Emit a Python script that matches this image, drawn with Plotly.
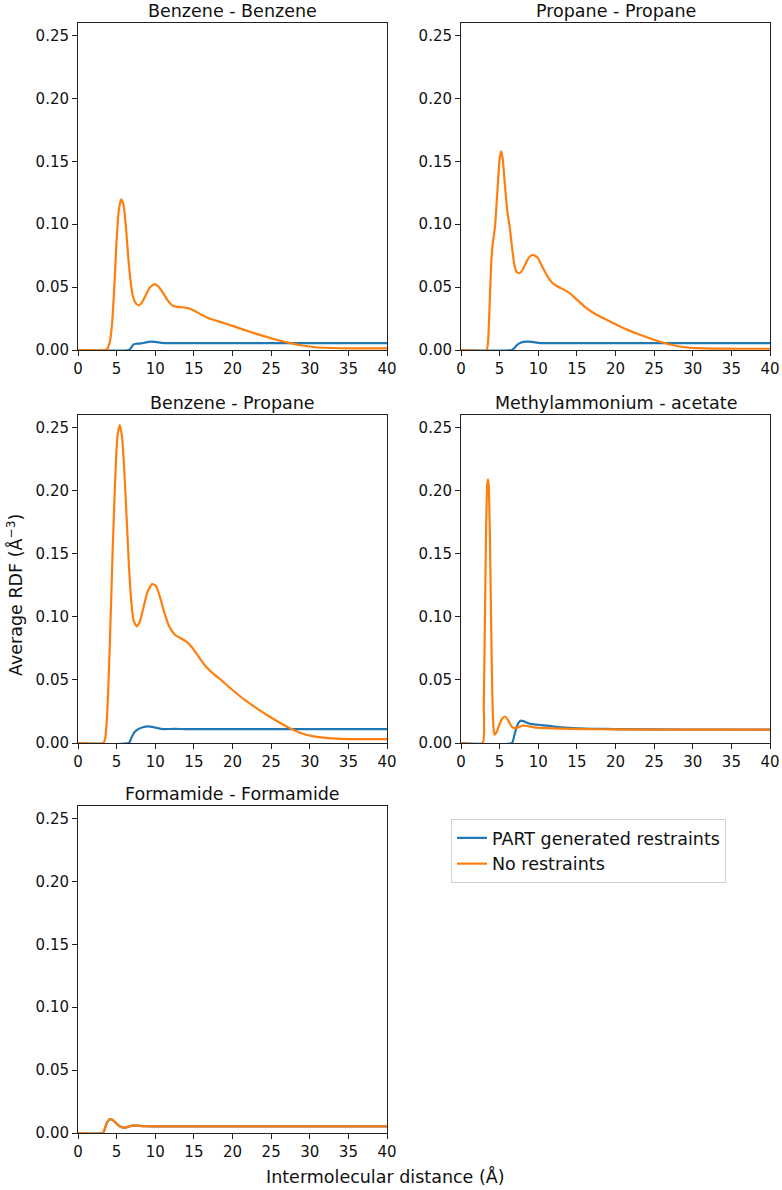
import plotly.graph_objects as go

# ---- data (distance in Angstrom, RDF in A^-3) ----
bb_no_x = [0, 3.5, 3.8, 4.1, 4.4, 4.7, 5.0, 5.3, 5.6, 5.9, 6.2, 6.5, 6.8, 7.1, 7.5, 7.9, 8.3, 8.8, 9.3, 9.9,
           10.4, 11.0, 11.6, 12.2, 12.8, 13.5, 14.2, 14.8, 15.5, 16.3, 17.2, 18.5, 20.0, 21.5, 23.0, 24.5,
           26.0, 27.5, 29.0, 30.5, 32.0, 34.0, 37.0, 40.0]
bb_no_y = [0, 0, 0.001, 0.006, 0.02, 0.05, 0.088, 0.112, 0.1197, 0.115, 0.098, 0.074, 0.055, 0.043, 0.037,
           0.0355, 0.038, 0.044, 0.0497, 0.0523, 0.0505, 0.0455, 0.0395, 0.0355, 0.0343, 0.0340, 0.0334,
           0.0320, 0.0297, 0.0270, 0.0246, 0.0222, 0.0192, 0.0160, 0.0130, 0.0102, 0.0077, 0.0055, 0.0036,
           0.0024, 0.0018, 0.0014, 0.0013, 0.0013]
bb_part_x = [0, 6.6, 6.9, 7.2, 7.6, 8.2, 8.8, 9.4, 10.0, 10.8, 11.6, 13.0, 40.0]
bb_part_y = [0, 0, 0.002, 0.0045, 0.005, 0.0053, 0.0061, 0.0066, 0.0064, 0.0057, 0.0054, 0.0055, 0.0055]

pp_no_x = [0, 3.3, 3.5, 3.7, 3.9, 4.1, 4.4, 4.7, 5.0, 5.2, 5.4, 5.7, 6.0, 6.3, 6.6, 6.9, 7.2, 7.6, 8.0, 8.5,
           9.0, 9.4, 9.9, 10.5, 11.2, 11.8, 12.5, 13.3, 14.1, 15.0, 16.0, 17.0, 18.5, 20.0, 21.5, 23.0,
           24.5, 26.0, 27.5, 29.0, 30.5, 32.5, 36.0, 40.0]
pp_no_y = [0, 0, 0.006, 0.035, 0.068, 0.084, 0.098, 0.125, 0.152, 0.158, 0.152, 0.130, 0.110, 0.098, 0.082,
           0.068, 0.062, 0.0612, 0.064, 0.0705, 0.0748, 0.0755, 0.0735, 0.0665, 0.0585, 0.0535, 0.0505,
           0.0480, 0.0450, 0.0400, 0.0345, 0.0300, 0.0250, 0.0205, 0.0162, 0.0125, 0.0092, 0.0062, 0.0038,
           0.0022, 0.0015, 0.0011, 0.0010, 0.0010]
pp_part_x = [0, 6.6, 6.9, 7.3, 7.8, 8.5, 9.2, 10.0, 11.0, 40.0]
pp_part_y = [0, 0, 0.0015, 0.0043, 0.0060, 0.0066, 0.0064, 0.0057, 0.0055, 0.0055]

bp_no_x = [0, 3.3, 3.5, 3.7, 3.9, 4.1, 4.3, 4.5, 4.7, 4.9, 5.1, 5.4, 5.7, 6.0, 6.3, 6.6, 6.9, 7.2, 7.6, 8.0,
           8.5, 9.0, 9.6, 10.1, 10.6, 11.2, 11.8, 12.5, 13.3, 14.1, 14.8, 15.6, 16.5, 17.5, 18.5, 20.0,
           21.5, 23.0, 24.5, 26.0, 27.5, 29.0, 30.5, 32.0, 34.0, 37.0, 40.0]
bp_no_y = [0, 0, 0.003, 0.015, 0.040, 0.075, 0.115, 0.155, 0.190, 0.222, 0.243, 0.252, 0.243, 0.215, 0.178,
           0.140, 0.112, 0.097, 0.0925, 0.096, 0.108, 0.120, 0.1260, 0.1245, 0.116, 0.103, 0.0925, 0.0860,
           0.0830, 0.0800, 0.0755, 0.0685, 0.0610, 0.0550, 0.0500, 0.0420, 0.0345, 0.0280, 0.0220, 0.0165,
           0.0115, 0.0075, 0.0052, 0.0040, 0.0033, 0.0030, 0.0030]
bp_part_x = [0, 6.6, 6.9, 7.3, 7.8, 8.4, 9.0, 9.6, 10.3, 11.0, 12.5, 14.0, 40.0]
bp_part_y = [0, 0, 0.004, 0.0085, 0.0110, 0.0125, 0.0132, 0.0128, 0.0118, 0.0110, 0.0112, 0.0110, 0.0110]

ma_no_x = [0, 2.8, 2.95, 3.1, 3.25, 3.4, 3.5, 3.6, 3.75, 3.9, 4.05, 4.2, 4.35, 4.6, 4.9, 5.3, 5.7, 6.1, 6.5,
           6.9, 7.4, 8.0, 8.6, 9.5, 11.0, 13.0, 16.0, 20.0, 30.0, 40.0]
ma_no_y = [0, 0, 0.03, 0.10, 0.17, 0.205, 0.209, 0.203, 0.16, 0.095, 0.04, 0.012, 0.0065, 0.0085, 0.0135,
           0.019, 0.021, 0.018, 0.0135, 0.0118, 0.0125, 0.0138, 0.0135, 0.0124, 0.0118, 0.0114, 0.0110,
           0.0108, 0.0106, 0.0106]
ma_part_x = [0, 6.6, 6.9, 7.2, 7.5, 7.8, 8.2, 8.8, 9.5, 10.5, 12.0, 14.0, 17.0, 20.0, 30.0, 40.0]
ma_part_y = [0, 0, 0.006, 0.0125, 0.0165, 0.0178, 0.0170, 0.0155, 0.0148, 0.0142, 0.0130, 0.0120, 0.0113,
             0.0110, 0.0107, 0.0106]

ff_no_x = [0, 3.2, 3.4, 3.7, 4.0, 4.3, 4.7, 5.2, 5.7, 6.1, 6.6, 7.1, 7.7, 8.5, 10.0, 40.0]
ff_no_y = [0, 0, 0.002, 0.0075, 0.0105, 0.0110, 0.0092, 0.0062, 0.0045, 0.0043, 0.0052, 0.0059, 0.0058,
           0.0054, 0.0053, 0.0053]
# PART curve lies exactly under the unrestrained one here
ff_part_x = ff_no_x
ff_part_y = ff_no_y

titles = ["Benzene - Benzene", "Propane - Propane", "Benzene - Propane",
          "Methylammonium - acetate", "Formamide - Formamide"]
series = [(bb_part_x, bb_part_y, bb_no_x, bb_no_y),
          (pp_part_x, pp_part_y, pp_no_x, pp_no_y),
          (bp_part_x, bp_part_y, bp_no_x, bp_no_y),
          (ma_part_x, ma_part_y, ma_no_x, ma_no_y),
          (ff_part_x, ff_part_y, ff_no_x, ff_no_y)]

W, H = 782, 1190
FONT = "DejaVu Sans"
BLUE, ORANGE = "#1f77b4", "#ff7f0e"

# panel boxes in pixels: (left, right, top, bottom)
col_px = [(78, 387), (461, 770)]
row_px = [(23, 350), (415, 743), (806, 1133)]

fig = go.Figure()
layout = {}
annotations = []

for i, (title, (px, py, nx, ny)) in enumerate(zip(titles, series)):
    r, c = divmod(i, 2)
    left, right = col_px[c]
    top, bottom = row_px[r]
    xa = "xaxis" if i == 0 else "xaxis%d" % (i + 1)
    ya = "yaxis" if i == 0 else "yaxis%d" % (i + 1)
    xr = "x" if i == 0 else "x%d" % (i + 1)
    yr = "y" if i == 0 else "y%d" % (i + 1)

    fig.add_trace(go.Scatter(x=px, y=py, mode="lines",
                             line=dict(color=BLUE, width=2.2, shape="spline", smoothing=0.5),
                             name="PART generated restraints", showlegend=(i == 0),
                             xaxis=xr, yaxis=yr))
    fig.add_trace(go.Scatter(x=nx, y=ny, mode="lines",
                             line=dict(color=ORANGE, width=2.2, shape="spline", smoothing=0.5),
                             name="No restraints", showlegend=(i == 0),
                             xaxis=xr, yaxis=yr))

    axis_common = dict(showline=True, linecolor="#222222", linewidth=1, mirror=True,
                       ticks="outside", ticklen=5, tickwidth=1, tickcolor="#222222",
                       showgrid=False, zeroline=False, automargin=False,
                       tickfont=dict(family=FONT, size=15, color="#111111"))
    layout[xa] = dict(axis_common, domain=[left / W, right / W], range=[0, 40], dtick=5,
                      tick0=0, anchor=yr)
    layout[ya] = dict(axis_common, domain=[1 - bottom / H, 1 - top / H], range=[0, 0.26],
                      dtick=0.05, tick0=0, tickformat=".2f", anchor=xr)

    annotations.append(dict(text=title, xref="paper", yref="paper",
                            x=(left + right) / 2 / W, y=1 - (top - 12) / H,
                            xanchor="center", yanchor="middle", showarrow=False,
                            font=dict(family=FONT, size=17.5, color="#111111")))

annotations.append(dict(text="Intermolecular distance (Å)", xref="paper", yref="paper",
                        x=385 / W, y=1 - 1176 / H, xanchor="center", yanchor="middle",
                        showarrow=False, font=dict(family=FONT, size=17.5, color="#111111")))
annotations.append(dict(text="Average RDF (Å<sup>−3</sup>)", xref="paper", yref="paper",
                        x=15 / W, y=0.5, xanchor="center", yanchor="middle", textangle=-90,
                        showarrow=False, font=dict(family=FONT, size=17.5, color="#111111")))

fig.update_layout(
    width=W, height=H,
    margin=dict(l=0, r=0, t=0, b=0),
    paper_bgcolor="white", plot_bgcolor="white",
    font=dict(family=FONT, color="#111111"),
    legend=dict(x=451 / W, y=1 - 819 / H, xanchor="left", yanchor="top",
                bordercolor="#d0d0d0", borderwidth=1, bgcolor="white",
                font=dict(family=FONT, size=17.5, color="#111111")),
    annotations=annotations,
    **layout,
)

# drop the page's default 8px body margin so the figure sits at the window origin
fig.write_html("out.html", config={"displayModeBar": False},
               post_script="document.body.style.margin='0px';")
